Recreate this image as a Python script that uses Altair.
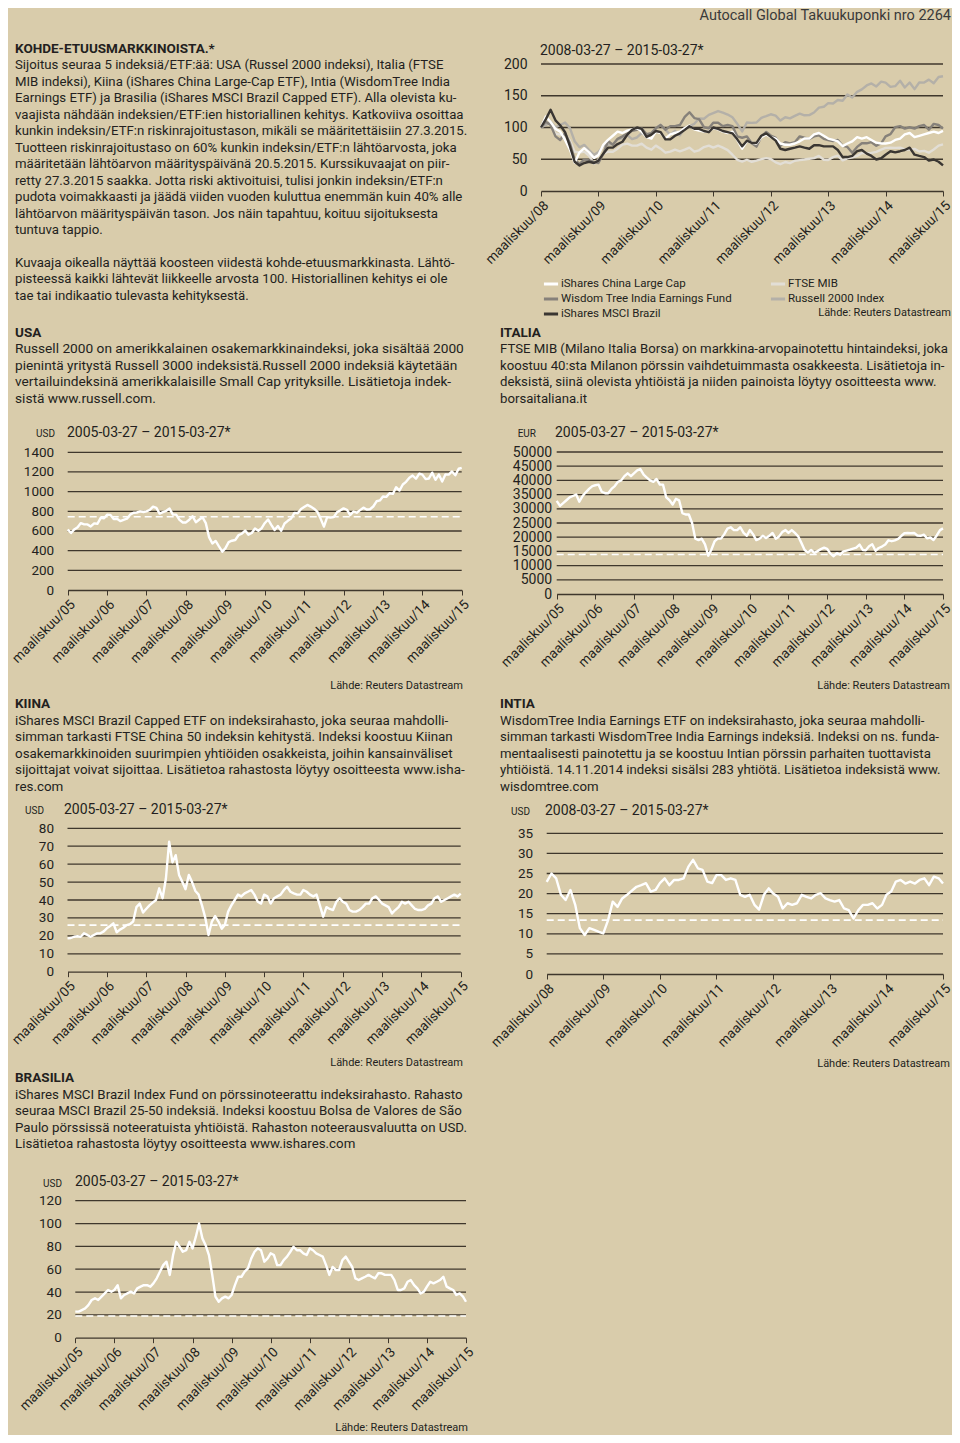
import altair as alt
import pandas as pd

BG = "#d9ccab"
INK = "#231f20"
GRID = "#3f372c"
FONT = "Roboto"

# ------------------------------------------------------------------ data
# monthly readings, 27th of each month
usa_values = [
    615, 579, 616, 639, 680, 667, 667, 646, 677, 673,
    734, 730, 765, 764, 721, 724, 700, 714, 725, 766, 786, 788,
    800, 793, 800, 814, 847, 834, 777, 792, 805, 828, 767, 766,
    713, 686, 687, 714, 750, 689, 714, 740, 680, 538, 473, 499,
    443, 390, 423, 487, 501, 508, 557, 572, 604, 562, 579, 625,
    602, 628, 679, 717, 662, 610, 651, 602, 676, 703, 727, 784,
    781, 823, 843, 865, 848, 827, 797, 726, 644, 741, 737, 741,
    792, 810, 830, 816, 762, 798, 786, 812, 837, 819, 821, 849,
    902, 911, 951, 947, 984, 977, 1045, 1011, 1073, 1100, 1142, 1164,
    1131, 1183, 1173, 1127, 1134, 1193, 1120, 1174, 1102, 1174, 1173, 1205,
    1166, 1233, 1242]
italy_values = [
    32800, 31000, 32000, 33000, 34000, 34500, 35000, 32500, 34500, 35800,
    37000, 38000, 38300, 38500, 36000, 35500, 35500, 37000, 38000, 39500, 40000, 41500,
    42500, 41500, 42500, 43500, 44000, 42000, 41000, 40000, 39500, 40500, 38500, 38500,
    34000, 33000, 31500, 33500, 33000, 28500, 28000, 28000, 25000, 19500, 19000, 19500,
    17500, 13500, 15500, 18500, 19500, 19500, 21000, 23000, 23500, 22500, 22500, 23500,
    21500, 20500, 22500, 21000, 19000, 19500, 20500, 19700, 20500, 21500, 19500, 20200,
    21800, 22500, 21500, 22500, 21500, 20300, 18000, 15500, 14600, 15500, 14500, 15100,
    15800, 16300, 15900, 14200, 13300, 14400, 13800, 15000, 15300, 15600, 16000, 16300,
    17400, 15500, 15400, 16800, 17500, 15200, 16200, 16700, 17400, 18900, 18600, 18900,
    19400, 20500, 21400, 21500, 21400, 21500, 20600, 20500, 20900, 19600, 19900, 19000,
    20600, 22500, 23100]
china_values = [
    18.6, 18.8, 19.5, 19.8, 19.5, 21.4, 20.5, 19.5, 20.5, 21.4,
    21.4, 22.5, 24.2, 25.5, 27.0, 22.0, 23.5, 24.5, 26.0, 26.5, 28.0, 36.0,
    38.0, 33.0, 35.0, 37.0, 38.5, 40.0, 46.5, 41.0, 52.0, 72.5, 61.0, 65.0,
    54.0, 50.0, 46.0, 54.0, 50.0, 45.0, 43.0, 37.0, 30.0, 20.5, 28.0, 31.0,
    28.0, 24.0, 26.0, 33.5, 37.0, 40.0, 43.0, 42.0, 43.7, 44.6, 45.6, 43.0,
    39.0, 38.0, 43.0, 42.0, 38.0, 41.0, 42.0, 43.0, 45.6, 47.4, 44.6, 43.7,
    43.0, 43.0, 45.6, 44.6, 43.0, 42.0, 43.0, 37.0, 30.7, 36.0, 35.0, 34.4,
    39.0, 41.0, 39.0, 38.0, 34.4, 33.5, 33.5, 34.4, 36.0, 38.0, 38.0, 41.0,
    42.0, 40.0, 38.0, 37.0, 36.0, 32.5, 34.4, 36.0, 39.0, 38.0, 39.0, 37.0,
    35.0, 34.4, 34.4, 35.0, 37.0, 38.0, 41.0, 42.0, 39.0, 40.0, 41.0, 42.0,
    43.0, 42.0, 43.5]
india_values = [
    22.9, 25.0, 23.8, 19.7, 18.4, 20.9, 17.2, 11.4, 9.7, 11.4,
    11.0, 10.5, 10.1, 13.4, 18.0, 16.7, 18.8, 19.7, 20.7, 21.7, 22.1, 22.6,
    20.5, 20.9, 22.6, 23.8, 22.1, 23.4, 23.4, 23.8, 26.7, 28.4, 26.3, 25.9,
    23.0, 22.6, 24.6, 24.6, 23.4, 23.8, 23.4, 19.7, 19.2, 19.7, 17.2, 16.0,
    19.7, 21.3, 20.0, 19.2, 16.3, 17.6, 17.2, 17.6, 19.7, 19.2, 18.8, 19.7,
    20.1, 18.8, 18.4, 18.0, 18.4, 16.3, 15.9, 13.8, 15.9, 17.2, 17.2, 17.6,
    16.3, 17.2, 19.7, 20.5, 23.0, 23.4, 22.5, 23.0, 22.5, 23.4, 23.8, 22.1,
    24.2, 23.8, 22.5]
brazil_values = [
    22.8, 22.8, 24.2, 25.7, 28.6, 33.0, 34.5, 33.0, 36.0, 38.8,
    41.8, 40.3, 41.8, 46.0, 34.5, 37.4, 38.8, 40.3, 38.8, 43.2, 44.7, 46.0,
    46.0, 44.7, 47.6, 52.0, 57.8, 63.6, 66.6, 55.0, 72.4, 84.0, 79.7, 75.3,
    76.6, 84.0, 78.2, 88.5, 100.0, 87.0, 81.0, 72.4, 55.0, 36.0, 31.5, 34.5,
    36.0, 34.5, 37.4, 46.0, 53.4, 53.4, 57.8, 60.7, 69.5, 75.3, 78.2, 76.6,
    66.6, 69.5, 73.9, 72.4, 63.6, 63.6, 68.0, 71.0, 75.3, 79.7, 76.6, 76.6,
    73.9, 72.4, 78.2, 76.6, 73.9, 72.4, 71.0, 63.6, 55.0, 62.0, 59.3, 59.3,
    68.0, 71.0, 66.6, 62.0, 52.0, 50.5, 52.0, 53.4, 55.0, 53.4, 52.0, 56.4,
    56.4, 55.0, 55.0, 55.0, 50.5, 41.8, 41.8, 43.2, 49.0, 50.5, 46.0, 43.2,
    38.8, 40.3, 44.7, 49.0, 47.6, 49.0, 50.5, 53.4, 44.7, 43.2, 41.8, 37.4,
    38.8, 36.0, 31.5]

# risk levels (60 % of 27.3.2015 level), dashed lines
usa_risk = [745]
italy_risk = [13900]
china_risk = [26]
india_risk = [13.4]
brazil_risk = [19]

usa_ticks = [0, 200, 400, 600, 800, 1000, 1200, 1400]
italy_ticks = [0, 5000, 10000, 15000, 20000, 25000, 30000, 35000, 40000, 45000, 50000]
china_ticks = [0, 10, 20, 30, 40, 50, 60, 70, 80]
india_ticks = [0, 5, 10, 15, 20, 25, 30, 35]
brazil_ticks = [0, 20, 40, 60, 80, 100, 120]
top_ticks = [0, 50, 100, 150, 200]

# legend order (two columns, filled column by column)
series_names = ["iShares China Large Cap", "Wisdom Tree India Earnings Fund",
                "iShares MSCI Brazil", "FTSE MIB", "Russell 2000 Index"]
series_colors = ["#ffffff", "#86817a", "#3a3632", "#e2ded6", "#b4b0a8"]

header_text = ["Autocall Global Takuukuponki nro 2264"]
source_text = ["Lähde: Reuters Datastream"]
range_long = ["2005-03-27 – 2015-03-27*"]
range_short = ["2008-03-27 – 2015-03-27*"]

intro_lines = [
    "KOHDE-ETUUSMARKKINOISTA.*",
    "Sijoitus seuraa 5 indeksiä/ETF:ää: USA (Russel 2000 indeksi), Italia (FTSE",
    "MIB indeksi), Kiina (iShares China Large-Cap ETF), Intia (WisdomTree India",
    "Earnings ETF) ja Brasilia (iShares MSCI Brazil Capped ETF). Alla olevista ku-",
    "vaajista nähdään indeksien/ETF:ien historiallinen kehitys. Katkoviiva osoittaa",
    "kunkin indeksin/ETF:n riskinrajoitustason, mikäli se määritettäisiin 27.3.2015.",
    "Tuotteen riskinrajoitustaso on 60% kunkin indeksin/ETF:n lähtöarvosta, joka",
    "määritetään lähtöarvon määrityspäivänä 20.5.2015. Kurssikuvaajat on piir-",
    "retty 27.3.2015 saakka. Jotta riski aktivoituisi, tulisi jonkin indeksin/ETF:n",
    "pudota voimakkaasti ja jäädä viiden vuoden kuluttua enemmän kuin 40% alle",
    "lähtöarvon määrityspäivän tason. Jos näin tapahtuu, koituu sijoituksesta",
    "tuntuva tappio.",
    "",
    "Kuvaaja oikealla näyttää koosteen viidestä kohde-etuusmarkkinasta. Lähtö-",
    "pisteessä kaikki lähtevät liikkeelle arvosta 100. Historiallinen kehitys ei ole",
    "tae tai indikaatio tulevasta kehityksestä.",
]
usa_lines = [
    "USA",
    "Russell 2000 on amerikkalainen osakemarkkinaindeksi, joka sisältää 2000",
    "pienintä yritystä Russell 3000 indeksistä.Russell 2000 indeksiä käytetään",
    "vertailuindeksinä amerikkalaisille Small Cap yrityksille. Lisätietoja indek-",
    "sistä www.russell.com.",
]
italy_lines = [
    "ITALIA",
    "FTSE MIB (Milano Italia Borsa) on markkina-arvopainotettu hintaindeksi, joka",
    "koostuu 40:sta Milanon pörssin vaihdetuimmasta osakkeesta. Lisätietoja in-",
    "deksistä, siinä olevista yhtiöistä ja niiden painoista löytyy osoitteesta www.",
    "borsaitaliana.it",
]
china_lines = [
    "KIINA",
    "iShares MSCI Brazil Capped ETF on indeksirahasto, joka seuraa mahdolli-",
    "simman tarkasti FTSE China 50 indeksin kehitystä. Indeksi koostuu Kiinan",
    "osakemarkkinoiden suurimpien yhtiöiden osakkeista, joihin kansainväliset",
    "sijoittajat voivat sijoittaa. Lisätietoa rahastosta löytyy osoitteesta www.isha-",
    "res.com",
]
india_lines = [
    "INTIA",
    "WisdomTree India Earnings ETF on indeksirahasto, joka seuraa mahdolli-",
    "simman tarkasti WisdomTree India Earnings indeksiä. Indeksi on ns. funda-",
    "mentaalisesti painotettu ja se koostuu Intian pörssin parhaiten tuottavista",
    "yhtiöistä. 14.11.2014 indeksi sisälsi 283 yhtiötä. Lisätietoa indeksistä www.",
    "wisdomtree.com",
]
brazil_lines = [
    "BRASILIA",
    "iShares MSCI Brazil Index Fund on pörssinoteerattu indeksirahasto. Rahasto",
    "seuraa MSCI Brazil 25-50 indeksiä. Indeksi koostuu Bolsa de Valores de São",
    "Paulo pörssissä noteeratuista yhtiöistä. Rahaston noteerausvaluutta on USD.",
    "Lisätietoa rahastosta löytyy osoitteesta www.ishares.com",
]

HEAD = 13.5
YLAB = 13.5
XLAB = 13.5


# ------------------------------------------------------------------ helpers
def monthly(start, values):
    dates = pd.date_range(start, periods=len(values), freq=pd.DateOffset(months=1))
    return pd.DataFrame({"date": dates, "value": values})


def x_enc(y0, y1, xl, xr, H, yb):
    return alt.X(
        "date:T",
        scale=alt.Scale(domain=[alt.DateTime(year=y0, month=3, date=27),
                                alt.DateTime(year=y1, month=3, date=27)],
                        range=[xl, xr], nice=False),
        axis=alt.Axis(
            values=[alt.DateTime(year=y, month=3, date=27) for y in range(y0, y1 + 1)],
            format="maaliskuu/%y", formatType="time", title=None, grid=False,
            offset=yb - H, labelAngle=-45, labelAlign="right", labelBaseline="top",
            labelPadding=2, labelFont=FONT, labelFontSize=XLAB, labelColor=INK,
            labelFlush=False, labelOverlap=False, labelBound=False,
            tickSize=5, tickColor=GRID, tickWidth=1, domainColor=GRID, domainWidth=1.3),
    )


def y_enc(ticks, xl, yb, yt, label_size=YLAB, label_pad=14):
    return alt.Y(
        "value:Q",
        scale=alt.Scale(domain=[0, ticks[-1]], range=[yb, yt], nice=False, zero=True),
        axis=alt.Axis(values=ticks, format="d", title=None, grid=False, domain=False,
                      ticks=False, offset=-xl, labelPadding=label_pad, labelFont=FONT,
                      labelFontSize=label_size, labelColor=INK, labelFlush=False,
                      labelOverlap=False),
    )


def label(txt, x, y, size, align="left", color=INK, weight="normal"):
    return alt.Chart(pd.DataFrame({"t": txt})).mark_text(
        align=align, baseline="middle", font=FONT, fontSize=size, color=color,
        fontWeight=weight).encode(text="t:N", x=alt.value(x), y=alt.value(y))


def price_cell(values, start, y0, y1, ticks, risk, W, H, xl, xr, yb, yt, unit,
               unit_pos, title_pos, src_pos, label_size=YLAB, label_pad=14):
    df = monthly(start, values)
    xe = x_enc(y0, y1, xl, xr, H, yb)
    ye = y_enc(ticks, xl, yb, yt, label_size, label_pad)
    grid = alt.Chart(pd.DataFrame({"value": ticks[1:]})).mark_rule(
        color=GRID, strokeWidth=1.3).encode(y=ye, x=alt.value(xl), x2=alt.value(xr))
    dash = alt.Chart(pd.DataFrame({"value": risk})).mark_rule(
        color="white", strokeWidth=1.6, strokeDash=[7, 4]).encode(
        y=ye, x=alt.value(xl), x2=alt.value(xr))
    line = alt.Chart(df).mark_line(color="white", strokeWidth=2.4,
                                   strokeJoin="round").encode(x=xe, y=ye)
    rng = range_long if y0 == 2005 else range_short
    return alt.layer(
        grid, dash, line,
        label([unit], unit_pos[0], unit_pos[1], 10, align="right"),
        label(rng, title_pos[0], title_pos[1], 14),
        label(source_text, src_pos[0], src_pos[1], 11, align="right"),
    ).properties(width=W, height=H)


def text_cell(lines, W, H, x0, y0, lh, size):
    df = pd.DataFrame({"line": lines, "row": list(range(len(lines)))})
    base = alt.Chart(df).encode(
        x=alt.value(x0),
        y=alt.Y("row:Q", scale=alt.Scale(domain=[0, 1], range=[y0, y0 + lh],
                                         nice=False, zero=False), axis=None),
        text="line:N")
    head = base.transform_filter("datum.row == 0").mark_text(
        align="left", baseline="middle", font=FONT, fontSize=HEAD,
        fontWeight="bold", color=INK)
    body = base.transform_filter("datum.row > 0").mark_text(
        align="left", baseline="middle", font=FONT, fontSize=size, color=INK)
    return alt.layer(head, body).properties(width=W, height=H)


def blank(W, H):
    return alt.Chart(pd.DataFrame({"t": [""]})).mark_text().encode(
        text="t:N", x=alt.value(0), y=alt.value(0)).properties(width=W, height=H)


# ------------------------------------------------------------------ top chart
def normalised(vals, idx):
    return [v / vals[idx] * 100 for v in vals[idx:]]


top_series = {
    "FTSE MIB": normalised(italy_values, 36),
    "Russell 2000 Index": normalised(usa_values, 36),
    "Wisdom Tree India Earnings Fund": normalised(india_values, 0),
    "iShares China Large Cap": normalised(china_values, 36),
    "iShares MSCI Brazil": normalised(brazil_values, 36),
}
frames = []
for name, vals in top_series.items():
    f = monthly("2008-03-27", vals)
    f["series"] = name
    frames.append(f)
top_df = pd.concat(frames, ignore_index=True)

W1, W2 = 480, 464
TH, TXL, TXR, TYB, TYT = 312, 53, 455, 183, 56
txe = x_enc(2008, 2015, TXL, TXR, TH, TYB)
tye = y_enc(top_ticks, TXL, TYB, TYT, 14, 14)
top_grid = alt.Chart(pd.DataFrame({"value": top_ticks[1:]})).mark_rule(
    color=GRID, strokeWidth=1.3).encode(y=tye, x=alt.value(TXL), x2=alt.value(TXR))
top_lines = alt.Chart(top_df).mark_line(strokeWidth=2.4, strokeJoin="round").encode(
    x=txe, y=tye,
    color=alt.Color("series:N", scale=alt.Scale(domain=series_names, range=series_colors),
                    legend=alt.Legend(orient="none", legendX=534, legendY=267, columns=2,
                                      title=None, symbolType="stroke", symbolStrokeWidth=3,
                                      symbolSize=200, labelFont=FONT, labelFontSize=11.5,
                                      labelColor=INK, labelLimit=400, columnPadding=32,
                                      rowPadding=0, labelOffset=1, padding=0)))
top_cell = alt.layer(
    top_grid, top_lines,
    label(range_short, 52, 43, 14),
    label(header_text, 463, 8, 14.5, align="right", color="#3a3a3a"),
    label(source_text, 463, 305, 11, align="right"),
).properties(width=W2, height=TH)

# ------------------------------------------------------------------ cells
cells = [
    text_cell(intro_lines, W1, 312, 7, 41, 16.45, 13.2),
    top_cell,
    text_cell(usa_lines, W1, 100, 7, 12.5, 16.5, 13.7),
    text_cell(italy_lines, W2, 100, 12, 12.5, 16.5, 13.2),
    price_cell(usa_values, "2005-03-27", 2005, 2015, usa_ticks, usa_risk,
               W1, 272, 59.7, 453.7, 170, 32.3, "USD", (47, 14), (59, 13), (455, 266)),
    price_cell(italy_values, "2005-03-27", 2005, 2015, italy_ticks, italy_risk,
               W2, 272, 68.7, 455, 174, 32, "EUR", (48, 14), (67, 13), (462, 266),
               label_size=14, label_pad=5),
    text_cell(china_lines, W1, 104, 7, 12, 16.5, 13.4),
    text_cell(india_lines, W2, 104, 12, 12, 16.5, 13.2),
    price_cell(china_values, "2005-03-27", 2005, 2015, china_ticks, china_risk,
               W1, 270, 59.5, 452.7, 175.7, 32.3, "USD", (36, 15), (56, 14), (455, 267)),
    price_cell(india_values, "2008-03-27", 2008, 2015, india_ticks, india_risk,
               W2, 270, 58.7, 455, 178, 37.3, "USD", (42, 16), (57, 15), (462, 268)),
    text_cell(brazil_lines, W1, 100, 7, 12, 16.5, 13.3),
    blank(W2, 100),
    price_cell(brazil_values, "2005-03-27", 2005, 2015, brazil_ticks, brazil_risk,
               W1, 269, 67.3, 458, 171.7, 34.7, "USD", (54, 18), (67, 16), (460, 262)),
]

chart = alt.concat(*cells, columns=2, spacing=0, bounds="flush", align="each").properties(
    background=BG,
    padding={"left": 0, "top": 0, "right": 944, "bottom": 1427},
    autosize=alt.AutoSizeParams(type="none"),
).configure(font=FONT).configure_view(stroke=None)

chart.save("out.html", embed_options={"renderer": "svg", "actions": False})
